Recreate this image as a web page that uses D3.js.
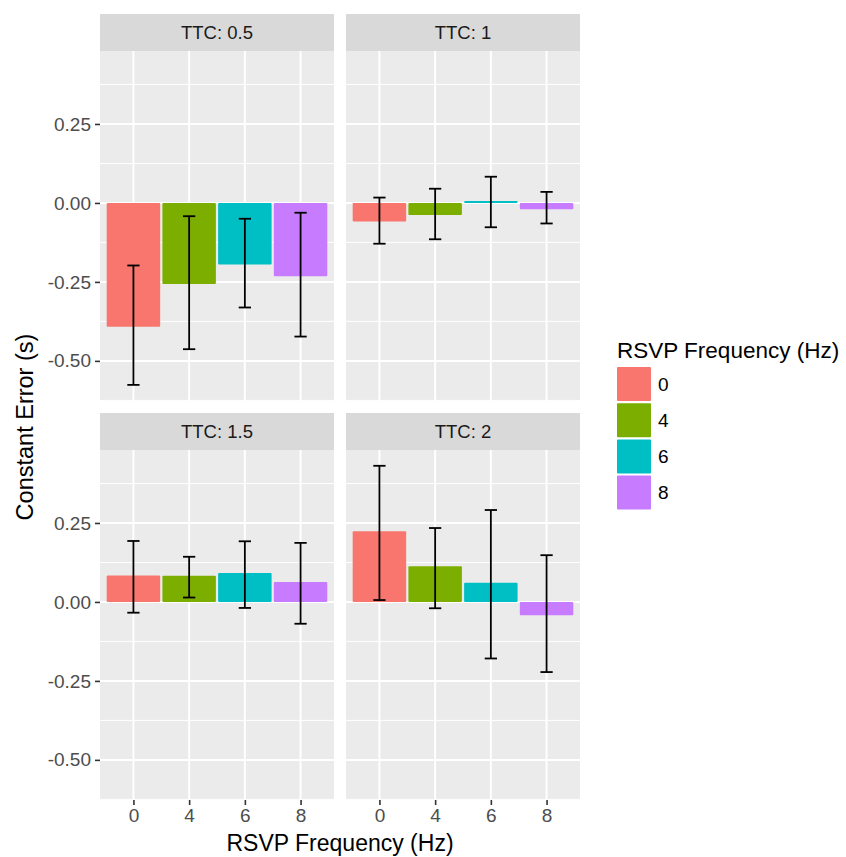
<!DOCTYPE html>
<html>
<head>
<meta charset="utf-8">
<script src="https://cdn.jsdelivr.net/npm/d3@7"></script>
<style>
  body { margin: 0; background: #fff; }
  svg { font-family: "Liberation Sans", Arial, sans-serif; }
</style>
</head>
<body>
<svg id="chart"></svg>
<script>
// data
var facets = ["TTC: 0.5", "TTC: 1", "TTC: 1.5", "TTC: 2"];
var freqs = ["0", "4", "6", "8"];
var means = [
  [-0.392, -0.257, -0.195, -0.232],
  [-0.059, -0.038, 0.006, -0.020],
  [0.084, 0.083, 0.092, 0.063],
  [0.224, 0.113, 0.061, -0.042]
];
var lower = [
  [-0.576, -0.463, -0.331, -0.423],
  [-0.129, -0.115, -0.077, -0.065],
  [-0.034, 0.014, -0.019, -0.069],
  [0.006, -0.020, -0.179, -0.222]
];
var upper = [
  [-0.198, -0.042, -0.050, -0.031],
  [0.017, 0.045, 0.083, 0.035],
  [0.193, 0.143, 0.192, 0.187],
  [0.431, 0.234, 0.291, 0.148]
];
var yTicks = [0.25, 0, -0.25, -0.5];
var yMinor = [0.375, 0.125, -0.125, -0.375, -0.625];
var colors = ["#F8766D", "#7CAE00", "#00BFC4", "#C77CFF"];

var w = 846, h = 857;
var svg = d3.select("#chart").attr("width", w).attr("height", h);

var colX = [100, 346], panelW = 234;
var rowY = [51, 450], panelH = 350, stripH = 37;

var x = d3.scalePoint().domain(freqs).range([0, panelW]).padding(0.6);
var step = x.step();
var y = d3.scaleLinear().domain([-0.627, 0.481]).range([panelH, 0]);

facets.forEach(function(name, i) {
  var col = i % 2, row = Math.floor(i / 2);
  var g = svg.append("g").attr("transform", "translate(" + colX[col] + "," + rowY[row] + ")");

  // strip
  g.append("rect").attr("x", 0).attr("y", -stripH).attr("width", panelW).attr("height", stripH)
    .attr("fill", "#D9D9D9");
  g.append("text").attr("x", panelW / 2).attr("y", -stripH / 2).attr("dy", "0.35em")
    .attr("text-anchor", "middle").attr("font-size", 18.5).attr("fill", "#1A1A1A").text(name);

  // panel background + grid
  g.append("rect").attr("width", panelW).attr("height", panelH).attr("fill", "#EBEBEB");
  g.selectAll(".minor").data(yMinor).enter().append("line")
    .attr("x1", 0).attr("x2", panelW).attr("y1", d => y(d)).attr("y2", d => y(d))
    .attr("stroke", "#fff").attr("stroke-width", 1);
  g.selectAll(".major").data(yTicks).enter().append("line")
    .attr("x1", 0).attr("x2", panelW).attr("y1", d => y(d)).attr("y2", d => y(d))
    .attr("stroke", "#fff").attr("stroke-width", 2);
  g.selectAll(".vmajor").data(freqs).enter().append("line")
    .attr("x1", d => x(d)).attr("x2", d => x(d)).attr("y1", 0).attr("y2", panelH)
    .attr("stroke", "#fff").attr("stroke-width", 2);

  // bars
  var bw = step * 0.96;
  g.selectAll(".bar").data(freqs).enter().append("rect")
    .attr("x", d => x(d) - bw / 2)
    .attr("y", (d, j) => y(Math.max(0, means[i][j])))
    .attr("width", bw)
    .attr("height", (d, j) => Math.abs(y(means[i][j]) - y(0)))
    .attr("rx", 1)
    .attr("fill", (d, j) => colors[j]);

  // error bars
  var cw = step * 0.22;
  var eb = g.selectAll(".err").data(freqs).enter().append("g").attr("stroke", "#000").attr("stroke-width", 1.8);
  eb.append("line").attr("x1", d => x(d)).attr("x2", d => x(d))
    .attr("y1", (d, j) => y(upper[i][j])).attr("y2", (d, j) => y(lower[i][j]));
  eb.append("line").attr("x1", d => x(d) - cw / 2).attr("x2", d => x(d) + cw / 2)
    .attr("y1", (d, j) => y(upper[i][j])).attr("y2", (d, j) => y(upper[i][j]));
  eb.append("line").attr("x1", d => x(d) - cw / 2).attr("x2", d => x(d) + cw / 2)
    .attr("y1", (d, j) => y(lower[i][j])).attr("y2", (d, j) => y(lower[i][j]));

  // axes
  if (col === 0) {
    var ay = g.append("g").call(d3.axisLeft(y).tickValues(yTicks).tickSize(5).tickPadding(4)
      .tickFormat(d3.format(".2f")));
    ay.select(".domain").remove();
    ay.selectAll("line").attr("stroke", "#333").attr("stroke-width", 1.6);
    ay.selectAll("text").attr("font-size", 19).attr("fill", "#4D4D4D")
      .attr("font-family", "Liberation Sans, Arial, sans-serif")
      .text(d => d3.format(".2f")(d).replace("−", "-"));
  }
  if (row === 1) {
    var ax = g.append("g").attr("transform", "translate(0," + panelH + ")")
      .call(d3.axisBottom(x).tickSize(5).tickPadding(4));
    ax.select(".domain").remove();
    ax.selectAll("line").attr("stroke", "#333").attr("stroke-width", 1.6);
    ax.selectAll("text").attr("font-size", 19).attr("fill", "#4D4D4D")
      .attr("font-family", "Liberation Sans, Arial, sans-serif");
  }
});

// axis titles
svg.append("text").attr("x", 340).attr("y", 851).attr("text-anchor", "middle")
  .attr("font-size", 23).attr("fill", "#000").text("RSVP Frequency (Hz)");
svg.append("text").attr("transform", "translate(33,427) rotate(-90)").attr("text-anchor", "middle")
  .attr("font-size", 23.5).attr("fill", "#000").text("Constant Error (s)");

// legend
var lg = svg.append("g").attr("transform", "translate(617,358)");
lg.append("text").attr("x", 0).attr("y", 0).attr("font-size", 22.5).attr("fill", "#000")
  .text("RSVP Frequency (Hz)");
var keys = lg.selectAll(".key").data(freqs).enter().append("g")
  .attr("transform", (d, j) => "translate(0," + (9 + j * 36.2) + ")");
keys.append("rect").attr("width", 34).attr("height", 34).attr("rx", 1).attr("fill", (d, j) => colors[j]);
keys.append("text").attr("x", 41).attr("y", 17).attr("dy", "0.35em")
  .attr("font-size", 19).attr("fill", "#000").text(d => d);
</script>
</body>
</html>
